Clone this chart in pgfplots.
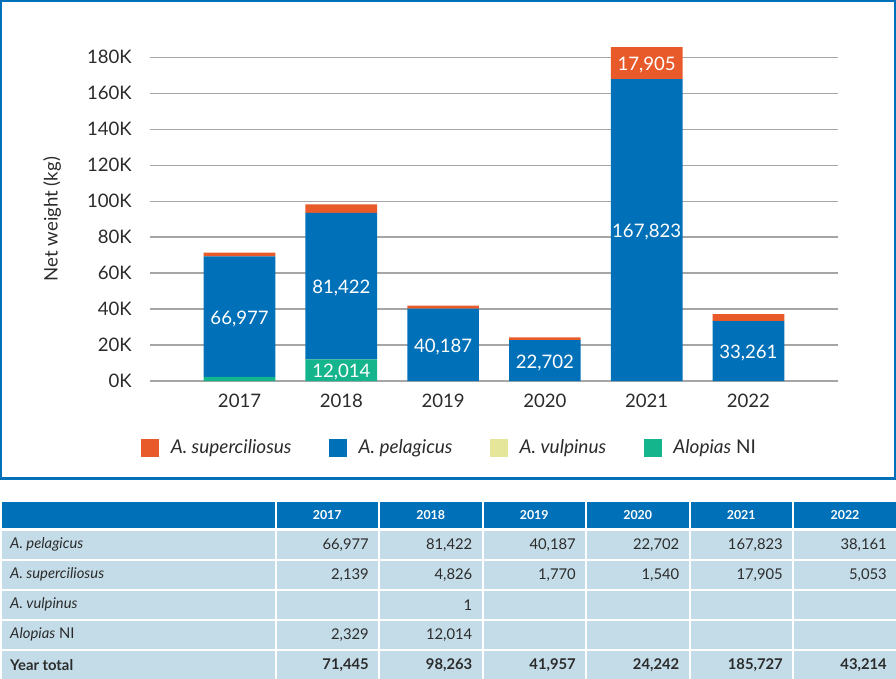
\documentclass[border=0pt]{standalone}
\usepackage{fontspec}
\setmainfont{Lato}
\usepackage{pgfplots}
\pgfplotsset{compat=1.18}

\definecolor{supercol}{HTML}{E95A2B}
\definecolor{pelcol}{HTML}{0070B8}
\definecolor{vulcol}{HTML}{E6E69A}
\definecolor{nicol}{HTML}{14B48C}
\definecolor{gridcol}{HTML}{A6A6A6}
\definecolor{txtcol}{HTML}{2B2B2B}
\definecolor{cellcol}{HTML}{C4DCE8}

\newcommand\bigfont{\fontsize{18.6bp}{22bp}\selectfont}
\newcommand\legfont{\fontsize{19bp}{22bp}\selectfont}
\newcommand\tabfont{\fontsize{14.8bp}{17bp}\selectfont}
\newcommand\headfont{\fontsize{12.4bp}{15bp}\selectfont\bfseries}

% one table row: y centre, then the six year values
\newcommand\rowvals[7]{%
  \node[anchor=east] at (369,#1) {#2};
  \node[anchor=east] at (472.5,#1) {#3};
  \node[anchor=east] at (576,#1) {#4};
  \node[anchor=east] at (679.5,#1) {#5};
  \node[anchor=east] at (783,#1) {#6};
  \node[anchor=east] at (887,#1) {#7};
}

\pgfplotsset{
  base/.style={
    at={(150bp,-381bp)}, anchor=south west,
    scale only axis, width=688bp, height=323.7bp,
    xmin=-0.88, xmax=5.88, ymin=0, ymax=180000,
    clip=false,
  },
}

\begin{document}
\begin{tikzpicture}
\useasboundingbox (0,0) rectangle (896bp,-679bp);

\begin{scope}[x=1bp,y=-1bp]
  \draw[pelcol, line width=2.4bp] (1.2,1.2) rectangle (894.8,478.6);
\end{scope}

\begin{axis}[
  base,
  ybar stacked, bar width=71.7bp,
  axis line style={draw=none}, tick style={draw=none},
  ymajorgrids, major grid style={gridcol, line width=1.3bp},
  xtick={0,...,5}, xticklabels={2017,2018,2019,2020,2021,2022},
  ytick={0,20000,...,180000}, scaled y ticks=false,
  yticklabels={0K,20K,40K,60K,80K,100K,120K,140K,160K,180K},
  yticklabel style={anchor=east, inner sep=0pt, xshift=-18bp, font=\bigfont, text=txtcol},
  xticklabel style={anchor=north, inner sep=0pt, yshift=-13bp, font=\bigfont, text=txtcol},
  ylabel={Net weight (kg)},
  every axis y label/.style={at={(axis description cs:-0.1424,0.5)}, anchor=center, rotate=90, font=\bigfont, text=txtcol},
  legend columns=4, reverse legend,
  legend image code/.code={\fill[#1] (0bp,-9bp) rectangle (18bp,9bp);},
  legend style={at={(axis description cs:-0.0131,-0.206)}, anchor=west, draw=none, fill=none,
    inner sep=0pt, font=\legfont, text=txtcol,
    nodes={inner sep=0pt},
    /tikz/every odd column/.append style={column sep=11.7bp},
    /tikz/every even column/.append style={column sep=37.5bp}},
]
\addplot[fill=nicol, draw=none] coordinates {(0,2329) (1,12014) (2,0) (3,0) (4,0) (5,0)};
\addlegendentry{\textit{Alopias} NI}
\addplot[fill=vulcol, draw=none] coordinates {(0,0) (1,1) (2,0) (3,0) (4,0) (5,0)};
\addlegendentry{\textit{A. vulpinus}}
\addplot[fill=pelcol, draw=none] coordinates {(0,66977) (1,81422) (2,40187) (3,22702) (4,167823) (5,33261)};
\addlegendentry{\textit{A. pelagicus}}
\addplot[fill=supercol, draw=none] coordinates {(0,2139) (1,4826) (2,1770) (3,1540) (4,17905) (5,3900)};
\addlegendentry{\textit{A. superciliosus}}
\end{axis}

% value labels, centred in their segments
\begin{axis}[base, hide axis]
\addplot[draw=none, mark=none, nodes near coords, point meta=explicit symbolic,
  nodes near coords style={anchor=base, inner sep=0pt, yshift=-7.5bp, white, font=\bigfont}]
  coordinates {(0,35818) [66,977] (1,6007) [12,014] (1,52726) [81,422] (2,20094) [40,187]
    (3,11351) [22,702] (4,83912) [167,823] (4,176776) [17,905] (5,16631) [33,261]};
\end{axis}

\begin{scope}[x=1bp,y=-1bp]
  \foreach \l/\r in {2/274.5, 276.5/378, 380/481.5, 483.5/585, 587/688.5, 690.5/792, 794/896} {
    \fill[pelcol] (\l,502.3) rectangle (\r,528.3);
    \foreach \t in {530.7,560.7,590.7,620.7,650.7}
      \fill[cellcol] (\l,\t) rectangle (\r,\t+28.3);
  }
  \begin{scope}[every node/.style={inner sep=0pt, text=white, font=\headfont}]
    \foreach \c/\yr in {327.2/2017, 430.7/2018, 534.2/2019, 637.7/2020, 741.2/2021, 845/2022}
      \node at (\c,515.5) {\yr};
  \end{scope}
  \begin{scope}[every node/.style={inner sep=0pt, text=txtcol, font=\tabfont}]
    \node[anchor=west] at (10,544.7) {\textit{A. pelagicus}};
    \node[anchor=west] at (10,574.7) {\textit{A. superciliosus}};
    \node[anchor=west] at (10,604.7) {\textit{A. vulpinus}};
    \node[anchor=west] at (10,634.7) {\textit{Alopias} NI};
    \node[anchor=west, font=\tabfont\bfseries] at (10,664.8) {Year total};
    \rowvals{544.7}{66,977}{81,422}{40,187}{22,702}{167,823}{38,161}
    \rowvals{574.7}{2,139}{4,826}{1,770}{1,540}{17,905}{5,053}
    \rowvals{604.7}{}{1}{}{}{}{}
    \rowvals{634.7}{2,329}{12,014}{}{}{}{}
  \end{scope}
  \begin{scope}[every node/.style={inner sep=0pt, text=txtcol, font=\tabfont\bfseries}]
    \rowvals{664.8}{71,445}{98,263}{41,957}{24,242}{185,727}{43,214}
  \end{scope}
\end{scope}
\end{tikzpicture}
\end{document}
